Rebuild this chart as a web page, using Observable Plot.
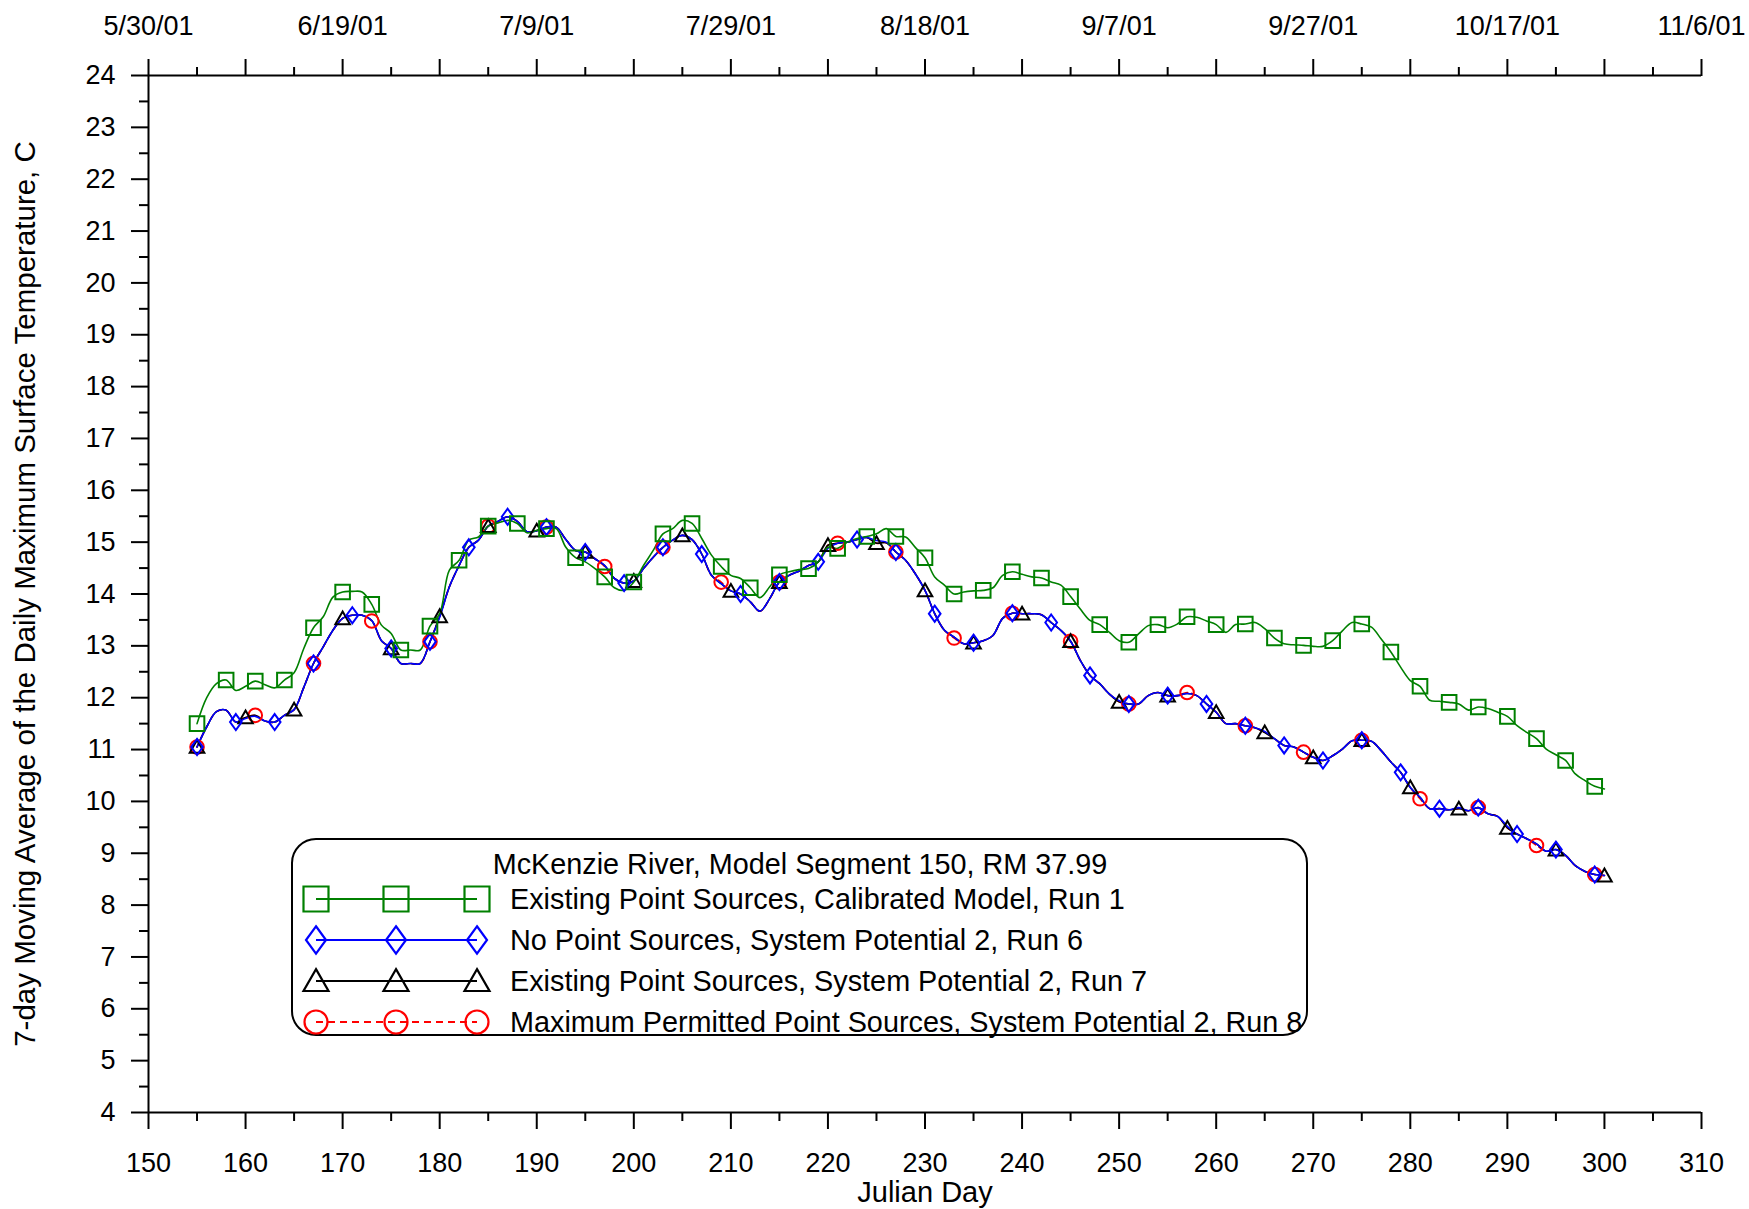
<!DOCTYPE html>
<html><head><meta charset="utf-8">
<script src="https://cdn.jsdelivr.net/npm/d3@7"></script>
<script src="https://cdn.jsdelivr.net/npm/@observablehq/plot@0.6"></script>
<style>body{margin:0;background:#fff;} svg{display:block}</style>
</head><body><div id="chart"></div>
<script>
const days = [155,156,157,158,159,160,161,162,163,164,165,166,167,168,169,170,171,172,173,174,
175,176,177,178,179,180,181,182,183,184,185,186,187,188,189,190,191,192,193,194,
195,196,197,198,199,200,201,202,203,204,205,206,207,208,209,210,211,212,213,214,
215,216,217,218,219,220,221,222,223,224,225,226,227,228,229,230,231,232,233,234,
235,236,237,238,239,240,241,242,243,244,245,246,247,248,249,250,251,252,253,254,
255,256,257,258,259,260,261,262,263,264,265,266,267,268,269,270,271,272,273,274,
275,276,277,278,279,280,281,282,283,284,285,286,287,288,289,290,291,292,293,294,
295,296,297,298,299,300];

// Existing Point Sources, Calibrated Model, Run 1
const run1 = [11.50,12.00,12.27,12.34,12.14,12.22,12.32,12.25,12.19,12.34,
12.48,12.95,13.35,13.56,13.94,14.04,14.05,14.04,13.80,13.40,
13.24,12.92,12.92,12.92,13.38,13.62,14.46,14.65,15.04,15.10,
15.31,15.37,15.42,15.36,15.18,15.23,15.26,15.26,14.90,14.70,
14.62,14.49,14.33,14.12,14.07,14.23,14.55,14.84,15.16,15.26,
15.42,15.36,15.07,14.75,14.53,14.36,14.30,14.12,13.93,14.14,
14.37,14.43,14.47,14.49,14.62,14.90,14.88,15.00,15.07,15.11,
15.16,15.26,15.11,15.10,14.90,14.70,14.33,14.17,14.00,14.04,
14.06,14.07,14.12,14.36,14.43,14.38,14.33,14.31,14.23,14.17,
13.95,13.71,13.49,13.41,13.26,13.10,13.07,13.23,13.39,13.41,
13.35,13.42,13.56,13.55,13.48,13.41,13.26,13.41,13.42,13.45,
13.33,13.15,13.04,13.02,13.01,12.99,12.99,13.10,13.29,13.45,
13.42,13.36,13.13,12.88,12.59,12.33,12.22,11.95,11.93,11.91,
11.88,11.76,11.82,11.79,11.72,11.64,11.46,11.33,11.21,11.01,
10.90,10.79,10.53,10.40,10.29,10.24];

// No Point Sources, System Potential 2, Run 6
const run6 = [11.05,11.44,11.73,11.76,11.53,11.60,11.64,11.55,11.53,11.66,
11.77,12.20,12.66,12.98,13.30,13.53,13.59,13.59,13.49,13.10,
12.95,12.66,12.66,12.66,13.08,13.55,14.14,14.55,14.90,15.04,
15.31,15.40,15.49,15.40,15.20,15.22,15.29,15.29,15.05,14.84,
14.81,14.68,14.55,14.30,14.21,14.25,14.49,14.71,14.90,15.04,
15.13,15.05,14.77,14.36,14.20,14.06,14.00,13.85,13.67,13.91,
14.23,14.36,14.44,14.55,14.62,14.88,14.98,15.00,15.05,15.09,
15.03,15.00,14.81,14.65,14.39,14.07,13.62,13.30,13.17,13.04,
13.06,13.10,13.20,13.53,13.63,13.62,13.62,13.60,13.45,13.30,
13.09,12.72,12.43,12.27,12.07,11.94,11.88,11.88,12.04,12.10,
12.04,12.04,12.08,12.04,11.88,11.72,11.50,11.50,11.46,11.42,
11.35,11.21,11.08,11.05,10.95,10.85,10.79,10.88,11.01,11.17,
11.18,11.16,10.98,10.76,10.56,10.27,10.08,9.86,9.86,9.84,
9.88,9.82,9.88,9.76,9.71,9.52,9.37,9.28,9.18,9.04,
9.07,8.96,8.76,8.65,8.59,8.57];

// Existing Point Sources, System Potential 2, Run 7
const run7 = [11.05,11.44,11.73,11.76,11.53,11.62,11.66,11.55,11.53,11.66,
11.77,12.20,12.66,12.98,13.30,13.53,13.59,13.59,13.49,13.10,
12.95,12.66,12.66,12.66,13.08,13.57,14.14,14.55,14.90,15.04,
15.31,15.40,15.49,15.40,15.20,15.22,15.29,15.29,15.05,14.84,
14.81,14.68,14.55,14.30,14.21,14.25,14.49,14.71,14.90,15.04,
15.13,15.05,14.77,14.36,14.20,14.06,14.00,13.85,13.67,13.91,
14.23,14.36,14.44,14.55,14.62,14.94,14.98,15.00,15.05,15.09,
14.98,14.99,14.81,14.65,14.39,14.07,13.62,13.30,13.17,13.04,
13.06,13.10,13.20,13.53,13.63,13.62,13.62,13.60,13.45,13.30,
13.09,12.72,12.43,12.27,12.07,11.92,11.88,11.88,12.04,12.10,
12.04,12.04,12.08,12.04,11.88,11.72,11.50,11.50,11.46,11.42,
11.33,11.21,11.08,11.05,10.95,10.85,10.79,10.88,11.01,11.17,
11.18,11.16,10.98,10.76,10.56,10.27,10.08,9.86,9.86,9.84,
9.86,9.82,9.88,9.76,9.71,9.49,9.37,9.28,9.18,9.04,
9.07,8.96,8.76,8.65,8.59,8.57];

// Maximum Permitted Point Sources, System Potential 2, Run 8
const run8 = [11.05,11.44,11.73,11.76,11.53,11.62,11.66,11.55,11.53,11.66,
11.77,12.20,12.66,12.98,13.30,13.53,13.59,13.59,13.48,13.10,
12.95,12.66,12.66,12.66,13.08,13.57,14.14,14.55,14.90,15.04,
15.31,15.40,15.49,15.40,15.20,15.22,15.29,15.29,15.05,14.84,
14.81,14.68,14.53,14.30,14.21,14.25,14.49,14.71,14.90,15.04,
15.13,15.05,14.77,14.36,14.23,14.06,14.00,13.85,13.67,13.91,
14.23,14.36,14.44,14.55,14.62,14.94,14.98,15.00,15.05,15.09,
14.98,14.99,14.81,14.65,14.39,14.07,13.62,13.30,13.15,13.04,
13.06,13.10,13.20,13.53,13.63,13.62,13.62,13.60,13.45,13.30,
13.09,12.72,12.43,12.27,12.07,11.92,11.88,11.88,12.04,12.10,
12.04,12.04,12.10,12.04,11.88,11.72,11.50,11.50,11.46,11.42,
11.33,11.21,11.08,11.05,10.95,10.85,10.79,10.88,11.01,11.17,
11.18,11.16,10.98,10.76,10.56,10.27,10.05,9.86,9.86,9.84,
9.86,9.82,9.88,9.76,9.71,9.49,9.37,9.28,9.15,9.04,
9.07,8.96,8.76,8.65,8.59,8.57];

const yMajorTicks = [4,5,6,7,8,9,10,11,12,13,14,15,16,17,18,19,20,21,22,23,24];
const yMinorTicks = [4.5,5.5,6.5,7.5,8.5,9.5,10.5,11.5,12.5,13.5,14.5,15.5,16.5,17.5,18.5,19.5,20.5,21.5,22.5,23.5];
const xMajorTicks = [150,160,170,180,190,200,210,220,230,240,250,260,270,280,290,300,310];
const xMinorTicks = [155,165,175,185,195,205,215,225,235,245,255,265,275,285,295,305];
const dateTicks = [150,170,190,210,230,250,270,290,310];
const dateLabels = ["5/30/01","6/19/01","7/9/01","7/29/01","8/18/01","9/7/01","9/27/01","10/17/01","11/6/01"];
const seriesNames = [
  "Existing Point Sources, Calibrated Model, Run 1",
  "No Point Sources, System Potential 2, Run 6",
  "Existing Point Sources, System Potential 2, Run 7",
  "Maximum Permitted Point Sources, System Potential 2, Run 8"
];
const legendTitle = "McKenzie River, Model Segment 150, RM 37.99";
const xTitle = "Julian Day";
const yTitle = "7-day Moving Average of the Daily Maximum Surface Temperature, C";
const colors = ["#008000", "#0000ff", "#000000", "#ff0000"];
const markerEvery = [3, 4, 5, 6];

const rows = days.map((d, i) => ({day: d, v1: run1[i], v6: run6[i], v7: run7[i], v8: run8[i]}));

const sym = fn => ({draw(ctx, size) { fn(ctx, Math.sqrt(size / Math.PI)); }});
const squareSym = sym((c, r) => { c.moveTo(-r, -r); c.lineTo(r, -r); c.lineTo(r, r); c.lineTo(-r, r); c.closePath(); });
const diamondSym = sym((c, r) => { c.moveTo(0, -1.1 * r); c.lineTo(0.8 * r, 0); c.lineTo(0, 1.1 * r); c.lineTo(-0.8 * r, 0); c.closePath(); });
const triangleSym = sym((c, r) => { c.moveTo(0, -0.95 * r); c.lineTo(r, 0.8 * r); c.lineTo(-r, 0.8 * r); c.closePath(); });
const circleSym = sym((c, r) => { c.moveTo(r, 0); c.arc(0, 0, r, 0, 2 * Math.PI); });
const symbols = [squareSym, diamondSym, triangleSym, circleSym];
const keys = ["v1", "v6", "v7", "v8"];
const rads = [7.3, 7.3, 7.3, 6.8];

const every = k => rows.filter(d => (d.day - days[0]) % k === 0);
const FONT = "'Liberation Sans', Arial, sans-serif";

const lineOrder = [3, 2, 1, 0];
const marks = [];
for (const s of lineOrder) {
  marks.push(Plot.line(rows, {x: "day", y: keys[s], stroke: colors[s], strokeWidth: 1.6,
    strokeDasharray: s === 3 ? "6,4" : null, curve: "catmull-rom"}));
}
for (const s of lineOrder) {
  marks.push(Plot.dot(every(markerEvery[s]), {x: "day", y: keys[s], symbol: symbols[s], r: rads[s],
    stroke: colors[s], strokeWidth: 2, fill: "none"}));
}

const chart = Plot.plot({
  width: 1749, height: 1209,
  marginLeft: 148, marginRight: 48, marginTop: 75, marginBottom: 97,
  style: {fontFamily: FONT, fontSize: "27px", background: "white", color: "black"},
  x: {domain: [150, 310]},
  y: {domain: [4, 24]},
  marks: [
    ...marks,
    Plot.ruleY([4, 24], {x1: 150, x2: 310, strokeWidth: 2}),
    Plot.ruleX([150], {y1: 4, y2: 24, strokeWidth: 2}),
    Plot.axisX({anchor: "bottom", ticks: xMajorTicks, tickSize: 17, strokeWidth: 2, fill: "none", label: null}),
    Plot.axisX({anchor: "bottom", ticks: xMinorTicks, tickSize: 9, strokeWidth: 2, fill: "none", label: null}),
    Plot.axisX({anchor: "bottom", ticks: xMajorTicks, tickSize: 0, tickPadding: 40, fontSize: 27, label: null}),
    Plot.axisX({anchor: "top", ticks: xMajorTicks, tickSize: 17, strokeWidth: 2, fill: "none", label: null}),
    Plot.axisX({anchor: "top", ticks: xMinorTicks, tickSize: 9, strokeWidth: 2, fill: "none", label: null}),
    Plot.axisX({anchor: "top", ticks: dateTicks, tickSize: 0, tickPadding: 41, fontSize: 27, label: null,
      tickFormat: d => dateLabels[dateTicks.indexOf(d)]}),
    Plot.axisY({anchor: "left", ticks: yMajorTicks, tickSize: 17, strokeWidth: 2, fill: "none", label: null}),
    Plot.axisY({anchor: "left", ticks: yMinorTicks, tickSize: 9, strokeWidth: 2, fill: "none", label: null}),
    Plot.axisY({anchor: "left", ticks: yMajorTicks, tickSize: 0, tickPadding: 33, fontSize: 27, label: null}),
    Plot.text([xTitle], {frameAnchor: "bottom", dy: 80, fontSize: 29, lineAnchor: "middle"}),
    Plot.text([yTitle], {frameAnchor: "left", dx: -123, rotate: -90, fontSize: 29.5, textAnchor: "middle", lineAnchor: "middle"})
  ]
});

// Legend
const svg = d3.select(chart);
const lg = svg.append("g").attr("font-family", FONT).attr("font-size", 28.8).attr("text-anchor", "start");
lg.append("rect").attr("x", 292).attr("y", 839).attr("width", 1015).attr("height", 196)
  .attr("rx", 24).attr("ry", 24).attr("fill", "white").attr("stroke", "black").attr("stroke-width", 2);
lg.append("text").attr("x", 800).attr("y", 864).attr("dy", "0.35em").attr("text-anchor", "middle").text(legendTitle);
const rowY = [899, 940, 981, 1022];
const symX = [316, 396, 477];
const legendR = [12.5, 12.5, 12.5, 11.5];
seriesNames.forEach((name, i) => {
  const y = rowY[i];
  lg.append("line").attr("x1", symX[0]).attr("x2", symX[2]).attr("y1", y).attr("y2", y)
    .attr("stroke", colors[i]).attr("stroke-width", 2).attr("stroke-dasharray", i === 3 ? "7,5" : null);
  const path = d3.symbol().type(symbols[i]).size(Math.PI * legendR[i] * legendR[i])();
  symX.forEach(x => {
    lg.append("path").attr("d", path).attr("transform", `translate(${x},${y})`)
      .attr("fill", "none").attr("stroke", colors[i]).attr("stroke-width", 2.2);
  });
  lg.append("text").attr("x", 510).attr("y", y).attr("dy", "0.35em").attr("text-anchor", "start").text(name);
});

document.getElementById("chart").appendChild(chart);
</script>
</body></html>
